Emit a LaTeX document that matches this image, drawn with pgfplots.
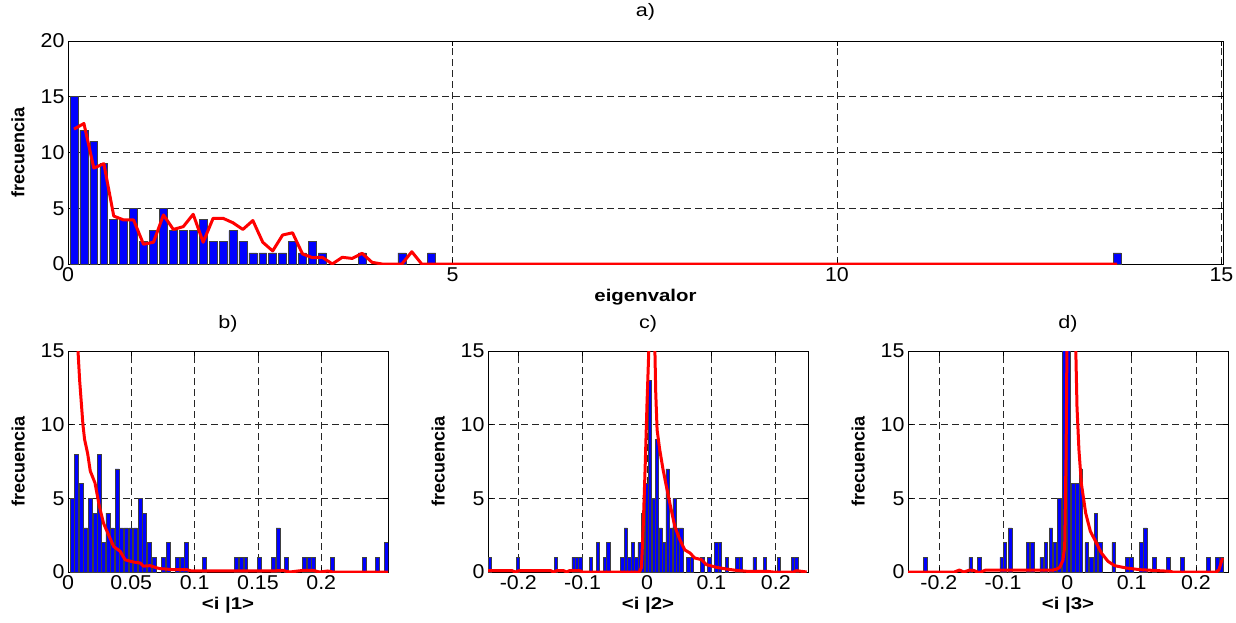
\documentclass[border=0pt]{standalone}
\usepackage{fontspec}
\setmainfont{Liberation Sans}
\newfontfamily\tickfont{Liberation Sans}[FakeStretch=1.07]
\newfontfamily\labfont{Liberation Sans}[FakeStretch=1.2]
\usepackage{pgfplots}
\pgfplotsset{compat=1.18}
\pgfplotsset{
  mystyle/.style={
    scale only axis, anchor=north west,
    grid=major,
    major grid style={black!85, line width=0.7pt, dash pattern=on 7pt off 4pt},
    tick align=inside, major tick length=5pt,
    tick style={black, line width=0.7pt},
    axis line style={black, line width=0.9pt},
    /pgf/number format/assume math mode=true,
    ticklabel style={font=\tickfont\fontsize{20}{22}\selectfont},
    title style={font=\labfont\fontsize{18}{20}\selectfont, anchor=center},
    xlabel style={font=\labfont\bfseries\fontsize{17}{19}\selectfont, anchor=center},
    ylabel style={font=\bfseries\fontsize{18}{20}\selectfont, anchor=center},
  },
  barsty/.style={ybar, bar shift=0pt, fill=blue, draw=black!75, line width=0.6pt},
  redsty/.style={red, line width=3pt, line join=round, mark=none},
}
\begin{document}
\begin{tikzpicture}
\path[use as bounding box] (0pt,0pt) rectangle (1236pt,-622pt);

% ---------------- a) ----------------
\begin{axis}[mystyle, at={(68pt,-41pt)}, width=1155pt, height=223pt,
  xmin=0, xmax=15.02, ymin=0, ymax=20,
  xtick={0,5,10,15}, ytick={0,5,10,15,20},
  title={a)}, xlabel={eigenvalor}, ylabel={frecuencia},
  title style={at={(axis description cs:0.5,1.103)}},
  xlabel style={at={(axis description cs:0.5,-0.148)}},
  ylabel style={at={(axis description cs:-0.0433,0.5)}}]
\addplot[barsty, bar width=0.103] coordinates {
(0.078,15)(0.207,12)(0.336,11)(0.466,9)(0.595,4)(0.724,4)(0.853,5)(0.982,2)
(1.112,3)(1.241,5)(1.370,3)(1.499,3)(1.628,3)(1.758,4)(1.887,2)(2.016,2)
(2.145,3)(2.274,2)(2.404,1)(2.533,1)(2.662,1)(2.791,1)(2.920,2)(3.050,1)
(3.179,2)(3.308,1)(3.825,1)(4.342,1)(4.729,1)(13.644,1)};
\addplot[redsty] coordinates {
(0.078,12.1)(0.207,12.6)(0.336,8.6)(0.466,9.0)(0.595,4.3)(0.724,3.95)(0.853,3.95)
(0.982,1.77)(1.112,1.95)(1.241,4.4)(1.370,3.1)(1.499,3.35)(1.628,4.46)(1.758,1.95)
(1.887,4.1)(2.016,4.1)(2.145,3.7)(2.274,3.1)(2.404,3.9)(2.533,1.95)(2.662,1.17)
(2.791,2.6)(2.920,2.8)(3.050,0.9)(3.179,0.57)(3.308,0.6)(3.437,0)(3.566,0.6)
(3.696,0.5)(3.825,0.96)(3.954,0.15)(4.083,0)(4.212,0)(4.342,0)(4.471,1.1)
(4.600,0)(13.644,0)};
\end{axis}

% ---------------- b) ----------------
\begin{axis}[mystyle, at={(68pt,-351pt)}, width=320pt, height=221pt,
  xmin=0, xmax=0.2527, ymin=0, ymax=15,
  xtick={0,0.05,0.1,0.15,0.2}, xticklabels={0,0.05,0.1,0.15,0.2},
  ytick={0,5,10,15},
  title={b)}, xlabel={<i |1>}, ylabel={frecuencia},
  title style={at={(axis description cs:0.5,1.095)}},
  xlabel style={at={(axis description cs:0.5,-0.149)}},
  ylabel style={at={(axis description cs:-0.156,0.5)}}]
\addplot[barsty, bar width=0.0031] coordinates {
(0.00315,5)(0.00656,8)(0.01024,6)(0.01391,3)(0.01759,5)(0.02126,4)(0.02493,8)
(0.02808,2)(0.0315,4)(0.0349,3)(0.0388,7)(0.0423,3)(0.0459,3)(0.0496,3)(0.0533,3)
(0.0570,5)(0.0606,4)(0.0643,2)(0.0680,1)(0.0753,1)(0.0790,2)(0.0864,1)(0.0900,1)
(0.0937,2)(0.1076,1)(0.1331,1)(0.1367,1)(0.1404,1)(0.1514,1)(0.1622,1)(0.1659,3)
(0.1722,1)(0.1869,1)(0.1903,1)(0.1937,1)(0.2087,1)(0.2341,1)(0.2444,1)(0.2514,2)};
\addplot[redsty] coordinates {
(0.0072,17)(0.0079,15.0)(0.0092,13.0)(0.0118,10.0)(0.0131,9.0)(0.0155,8.05)
(0.0176,6.85)(0.0213,6.05)(0.0249,4.4)(0.0281,3.3)(0.0320,2.53)(0.0360,1.74)
(0.0412,1.40)(0.0451,0.83)(0.0517,0.68)(0.0570,0.61)(0.0596,0.40)(0.0648,0.43)
(0.0697,0.29)(0.0727,0.23)(0.0832,0.16)(0.0937,0.16)(0.0976,0.07)(0.1304,0.07)
(0.1619,0.07)(0.1698,0.11)(0.1751,0.0)(0.1856,0.11)(0.1934,0.11)(0.1987,0.0)
(0.2052,0.07)(0.2092,0)(0.2527,0)};
\end{axis}

% ---------------- c) ----------------
\begin{axis}[mystyle, at={(488pt,-351pt)}, width=320pt, height=221pt,
  xmin=-0.247, xmax=0.25, ymin=0, ymax=15,
  xtick={-0.2,-0.1,0,0.1,0.2}, xticklabels={-0.2,-0.1,0,0.1,0.2},
  ytick={0,5,10,15},
  title={c)}, xlabel={<i |2>}, ylabel={frecuencia},
  title style={at={(axis description cs:0.5,1.095)}},
  xlabel style={at={(axis description cs:0.5,-0.149)}},
  ylabel style={at={(axis description cs:-0.156,0.5)}}]
\addplot[barsty, bar width=0.0051] coordinates {
(-0.2441,1)(-0.2009,1)(-0.1414,1)(-0.1143,1)(-0.1089,1)(-0.1035,1)(-0.0873,1)
(-0.0764,2)(-0.0656,1)(-0.0602,2)(-0.0386,1)(-0.0332,3)(-0.0277,1)(-0.0223,2)
(-0.0169,1)(-0.0115,2)(-0.0061,4)(-0.0007,6)(0.0047,13)(0.0101,5)(0.0155,9)
(0.0210,3)(0.0264,2)(0.0318,7)(0.0372,3)(0.0426,5)(0.0480,3)(0.0534,3)
(0.0642,1)(0.0696,1)(0.0859,1)(0.0967,1)(0.1075,2)(0.1129,2)(0.1237,1)
(0.1400,1)(0.1454,1)(0.1670,1)(0.1833,1)(0.2049,1)(0.2265,1)(0.2319,1)};
\addplot[redsty] coordinates {
(-0.247,0.1)(-0.21,0.1)(-0.205,0.0)(-0.198,0.1)(-0.15,0.1)(-0.145,0.0)(-0.14,0.1)
(-0.13,0.1)(-0.125,0.0)(-0.12,0.1)(-0.105,0.1)(-0.1,0)(-0.012,0)(-0.0087,0.3)
(-0.006,3)(-0.003,7)(0.0,11.5)(0.0031,15.5)(0.0075,30)(0.012,15.5)(0.0135,12.2)
(0.0156,9.66)(0.0197,8.3)(0.0249,6.95)(0.0301,5.8)(0.0364,4.46)(0.0431,3.1)
(0.0509,2.2)(0.0586,1.5)(0.0664,1.3)(0.0742,0.95)(0.0846,0.84)(0.0923,0.5)
(0.1079,0.32)(0.1235,0.2)(0.1390,0.11)(0.1546,0.05)(0.1857,0.05)(0.1960,0.0)
(0.2271,0.0)(0.2323,0.09)(0.2479,0.0)};
\end{axis}

% ---------------- d) ----------------
\begin{axis}[mystyle, at={(908pt,-351pt)}, width=320pt, height=221pt,
  xmin=-0.248, xmax=0.25, ymin=0, ymax=15,
  xtick={-0.2,-0.1,0,0.1,0.2}, xticklabels={-0.2,-0.1,0,0.1,0.2},
  ytick={0,5,10,15},
  title={d)}, xlabel={<i |3>}, ylabel={frecuencia},
  title style={at={(axis description cs:0.5,1.095)}},
  xlabel style={at={(axis description cs:0.5,-0.149)}},
  ylabel style={at={(axis description cs:-0.156,0.5)}}]
\addplot[barsty, bar width=0.0055] coordinates {
(-0.2212,1)(-0.1506,1)(-0.1374,1)(-0.1023,1)(-0.0974,2)(-0.0891,3)(-0.0614,2)
(-0.0548,2)(-0.0400,1)(-0.0333,2)(-0.0257,3)(-0.0193,2)(-0.0128,5)(-0.0050,25)
(0.0019,20)(0.0093,6)(0.0153,6)(0.0210,7)(0.0301,2)(0.0374,1)(0.0446,4)
(0.0514,2)(0.0721,2)(0.0935,1)(0.0997,1)(0.1153,2)(0.1209,3)(0.1349,1)
(0.1567,1)(0.1785,1)(0.2190,1)(0.2336,1)(0.2399,1)};
\addplot[redsty] coordinates {
(-0.248,0)(-0.176,0)(-0.168,0.13)(-0.161,0)(-0.152,0.13)(-0.145,0.1)(-0.14,0)
(-0.135,0)(-0.128,0.12)(-0.0224,0.12)(-0.017,0.2)(-0.012,0.3)(-0.0069,0.8)
(-0.0042,1.7)(-0.002,8)(-0.0005,16)(0.006,40)(0.0129,15.5)(0.015,11.2)(0.018,8.3)
(0.0218,6.0)(0.0285,4.0)(0.0358,2.76)(0.0452,1.97)(0.053,1.29)(0.0633,0.72)
(0.0737,0.43)(0.0919,0.27)(0.1126,0.16)(0.1334,0.11)(0.159,0.05)(0.164,0)
(0.232,0)(0.236,0.16)(0.2414,0.95)};
\end{axis}
\end{tikzpicture}
\end{document}
